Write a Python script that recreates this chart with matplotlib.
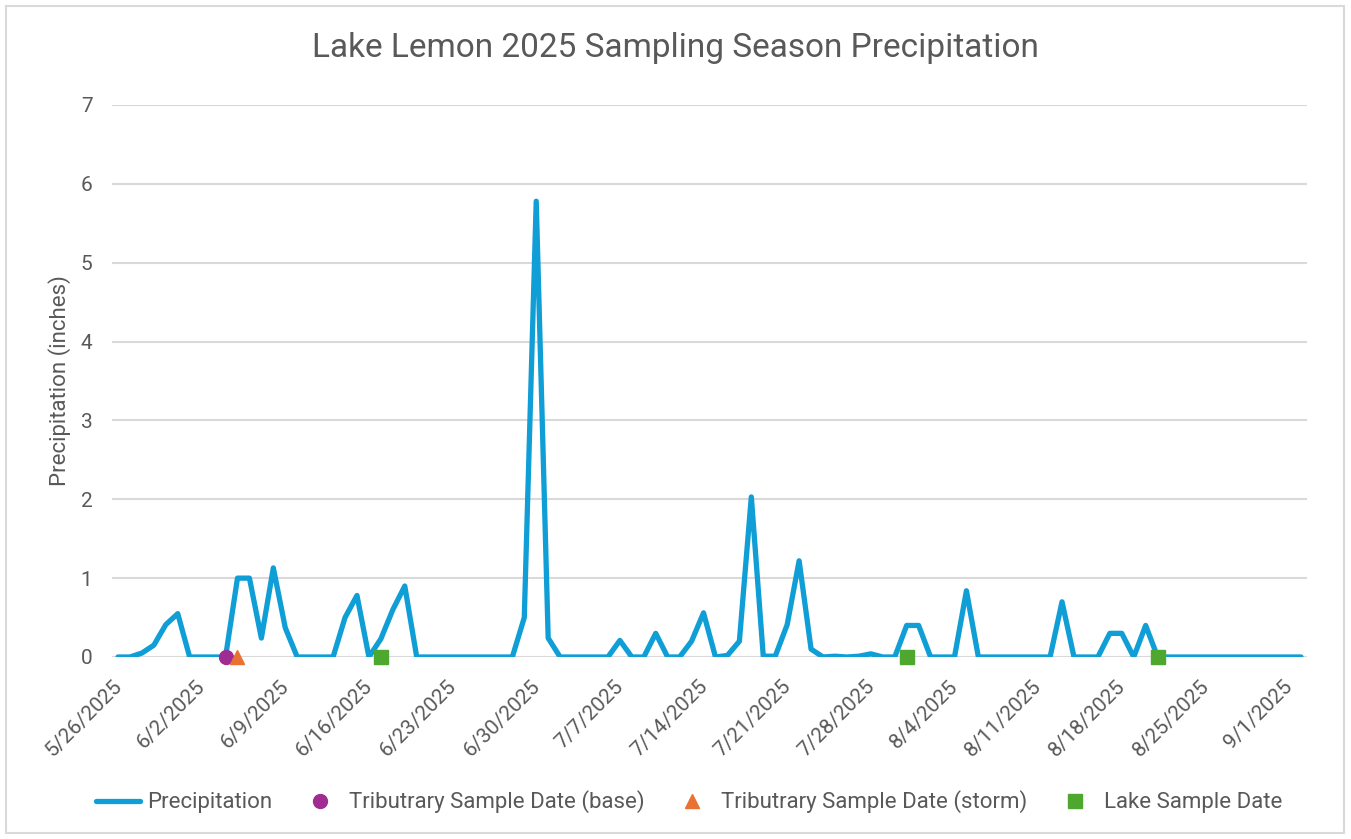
import matplotlib.pyplot as plt
from matplotlib.patches import Rectangle
import numpy as np
import datetime as dt

plt.rcParams['font.family'] = ['Roboto', 'DejaVu Sans']

start = dt.date(2025, 5, 26)

# daily precipitation (inches), 5/26/2025 .. 9/2/2025
precip = [0, 0, 0.05, 0.15, 0.41, 0.55, 0, 0, 0, 0,
          1.0, 1.0, 0.24, 1.13, 0.37, 0, 0, 0, 0, 0.5,
          0.78, 0, 0.23, 0.6, 0.9, 0, 0, 0, 0, 0,
          0, 0, 0, 0, 0.5, 5.78, 0.24, 0, 0, 0,
          0, 0, 0.21, 0, 0, 0.3, 0, 0, 0.2, 0.56,
          0, 0.02, 0.2, 2.03, 0.01, 0.01, 0.41, 1.22, 0.1, 0,
          0.01, 0, 0.01, 0.04, 0, 0, 0.4, 0.4, 0, 0,
          0, 0.84, 0, 0, 0, 0, 0, 0, 0, 0.7,
          0, 0, 0, 0.3, 0.3, 0, 0.4, 0, 0, 0,
          0, 0, 0, 0, 0, 0, 0, 0, 0, 0]

trib_base = [dt.date(2025, 6, 4)]
trib_storm = [dt.date(2025, 6, 5)]
lake_dates = [dt.date(2025, 6, 17), dt.date(2025, 7, 31), dt.date(2025, 8, 21)]

tick_dates = [start + dt.timedelta(days=7 * k) for k in range(15)]
tick_labels = [f"{d.month}/{d.day}/{d.year}" for d in tick_dates]


def day(d):
    return (d - start).days


days = np.arange(len(precip))
grey = '#595959'

fig = plt.figure(figsize=(13.51, 8.39), dpi=100)
fig.patches.append(Rectangle((6 / 1351, 6 / 839), 1338 / 1351, 827 / 839,
                             transform=fig.transFigure, fill=False,
                             edgecolor='#D9D9D9', lw=1.5))
ax = fig.add_axes([112 / 1351, 1 - 657 / 839, 1195 / 1351, 552 / 839])

ax.plot(days, precip, color='#0F9ED5', lw=3.8, solid_joinstyle='round',
        solid_capstyle='round', label='Precipitation', zorder=3)
ax.plot([day(d) for d in trib_base], [0] * len(trib_base), 'o', color='#A02B93',
        ms=10, ls='none', label='Tributrary Sample Date (base)', zorder=4,
        clip_on=False)
ax.plot([day(d) for d in trib_storm], [0] * len(trib_storm), '^', color='#E97132',
        ms=10, ls='none', label='Tributrary Sample Date (storm)', zorder=4,
        clip_on=False)
ax.plot([day(d) for d in lake_dates], [0] * len(lake_dates), 's', color='#4EA72E',
        ms=10, ls='none', label='Lake Sample Date', zorder=4, clip_on=False)

ax.set_xlim(-0.5, len(precip) - 0.5)
ax.set_ylim(0, 7)
ax.set_yticks(range(8))
ax.set_xticks([day(d) - 0.5 for d in tick_dates])
ax.set_xticklabels(tick_labels, rotation=45, ha='right', va='top',
                   rotation_mode='anchor')
ax.tick_params(axis='both', length=0, colors=grey, labelsize=15)
ax.tick_params(axis='x', pad=14)
ax.tick_params(axis='y', pad=14)
ax.grid(axis='y', color='#D9D9D9', lw=1.5)
ax.set_axisbelow(True)
for s in ax.spines.values():
    s.set_visible(False)

ax.set_ylabel('Precipitation (inches)', color=grey, fontsize=16, labelpad=7)
fig.text(0.5, 1 - 48 / 839, 'Lake Lemon 2025 Sampling Season Precipitation',
         ha='center', va='center', color=grey, fontsize=24)

fig.legend(loc='center', bbox_to_anchor=(0.51, 1 - 802 / 839), ncol=4,
           frameon=False, fontsize=16, labelcolor=grey, handlelength=2.0,
           handletextpad=0.3, columnspacing=1.15)

fig.savefig('out.png', dpi=100)
